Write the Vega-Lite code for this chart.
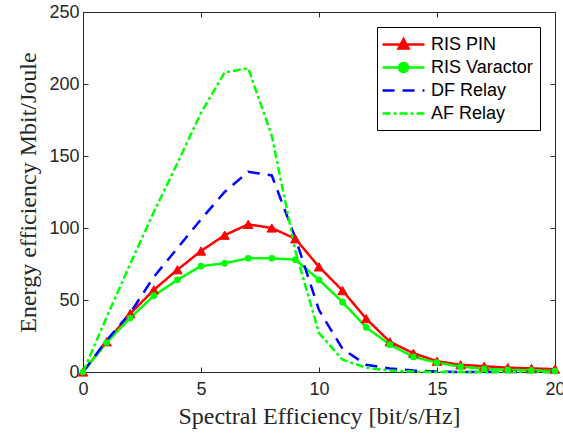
{
  "$schema": "https://vega.github.io/schema/vega-lite/v6.json",
  "width": 472,
  "height": 360,
  "autosize": {"type": "none"},
  "padding": {"left": 83, "top": 12, "right": 8, "bottom": 65},
  "background": "white",
  "config": {
    "view": {"stroke": null},
    "axis": {
      "grid": false,
      "domainColor": "#262626",
      "domainWidth": 1,
      "tickColor": "#262626",
      "tickWidth": 1,
      "tickSize": -5,
      "labelFont": "Liberation Sans",
      "labelFontSize": 18,
      "labelColor": "#262626",
      "labelFlush": false,
      "labelOverlap": false,
      "titleFont": "Liberation Serif",
      "titleFontSize": 24,
      "titleFontWeight": "normal",
      "titleColor": "#262626"
    }
  },
  "datasets": {
    "d": [
      {"x": 0, "series": "RIS PIN", "y": 0},
      {"x": 1, "series": "RIS PIN", "y": 21},
      {"x": 2, "series": "RIS PIN", "y": 40.5},
      {"x": 3, "series": "RIS PIN", "y": 57},
      {"x": 4, "series": "RIS PIN", "y": 71},
      {"x": 5, "series": "RIS PIN", "y": 84},
      {"x": 6, "series": "RIS PIN", "y": 95},
      {"x": 7, "series": "RIS PIN", "y": 102.5},
      {"x": 8, "series": "RIS PIN", "y": 100},
      {"x": 9, "series": "RIS PIN", "y": 92.5},
      {"x": 10, "series": "RIS PIN", "y": 73},
      {"x": 11, "series": "RIS PIN", "y": 56.5},
      {"x": 12, "series": "RIS PIN", "y": 37},
      {"x": 13, "series": "RIS PIN", "y": 21},
      {"x": 14, "series": "RIS PIN", "y": 13},
      {"x": 15, "series": "RIS PIN", "y": 7.5},
      {"x": 16, "series": "RIS PIN", "y": 5},
      {"x": 17, "series": "RIS PIN", "y": 4},
      {"x": 18, "series": "RIS PIN", "y": 3},
      {"x": 19, "series": "RIS PIN", "y": 2.5},
      {"x": 20, "series": "RIS PIN", "y": 2},
      {"x": 0, "series": "RIS Varactor", "y": 0},
      {"x": 1, "series": "RIS Varactor", "y": 20.5},
      {"x": 2, "series": "RIS Varactor", "y": 37.5},
      {"x": 3, "series": "RIS Varactor", "y": 53},
      {"x": 4, "series": "RIS Varactor", "y": 64},
      {"x": 5, "series": "RIS Varactor", "y": 73.5},
      {"x": 6, "series": "RIS Varactor", "y": 75.5},
      {"x": 7, "series": "RIS Varactor", "y": 79},
      {"x": 8, "series": "RIS Varactor", "y": 79},
      {"x": 9, "series": "RIS Varactor", "y": 78},
      {"x": 10, "series": "RIS Varactor", "y": 64},
      {"x": 11, "series": "RIS Varactor", "y": 48.5},
      {"x": 12, "series": "RIS Varactor", "y": 31},
      {"x": 13, "series": "RIS Varactor", "y": 19},
      {"x": 14, "series": "RIS Varactor", "y": 10.5},
      {"x": 15, "series": "RIS Varactor", "y": 6.5},
      {"x": 16, "series": "RIS Varactor", "y": 3.7},
      {"x": 17, "series": "RIS Varactor", "y": 2.2},
      {"x": 18, "series": "RIS Varactor", "y": 1.5},
      {"x": 19, "series": "RIS Varactor", "y": 1.1},
      {"x": 20, "series": "RIS Varactor", "y": 0.7},
      {"x": 0, "series": "DF Relay", "y": 0},
      {"x": 1, "series": "DF Relay", "y": 22},
      {"x": 2, "series": "DF Relay", "y": 41},
      {"x": 3, "series": "DF Relay", "y": 66},
      {"x": 4, "series": "DF Relay", "y": 86},
      {"x": 5, "series": "DF Relay", "y": 106},
      {"x": 6, "series": "DF Relay", "y": 125},
      {"x": 7, "series": "DF Relay", "y": 139},
      {"x": 8, "series": "DF Relay", "y": 136.5},
      {"x": 9, "series": "DF Relay", "y": 93},
      {"x": 10, "series": "DF Relay", "y": 43},
      {"x": 11, "series": "DF Relay", "y": 16},
      {"x": 12, "series": "DF Relay", "y": 5},
      {"x": 13, "series": "DF Relay", "y": 2.5},
      {"x": 14, "series": "DF Relay", "y": 1},
      {"x": 15, "series": "DF Relay", "y": 0.3},
      {"x": 16, "series": "DF Relay", "y": 0},
      {"x": 17, "series": "DF Relay", "y": 0},
      {"x": 18, "series": "DF Relay", "y": 0},
      {"x": 19, "series": "DF Relay", "y": 0},
      {"x": 20, "series": "DF Relay", "y": 0},
      {"x": 0, "series": "AF Relay", "y": 0},
      {"x": 1, "series": "AF Relay", "y": 38},
      {"x": 2, "series": "AF Relay", "y": 75},
      {"x": 3, "series": "AF Relay", "y": 111},
      {"x": 4, "series": "AF Relay", "y": 145},
      {"x": 5, "series": "AF Relay", "y": 180},
      {"x": 6, "series": "AF Relay", "y": 208},
      {"x": 7, "series": "AF Relay", "y": 211},
      {"x": 8, "series": "AF Relay", "y": 164},
      {"x": 9, "series": "AF Relay", "y": 84},
      {"x": 10, "series": "AF Relay", "y": 27},
      {"x": 11, "series": "AF Relay", "y": 8.5},
      {"x": 12, "series": "AF Relay", "y": 3},
      {"x": 13, "series": "AF Relay", "y": 1},
      {"x": 14, "series": "AF Relay", "y": 0.3},
      {"x": 15, "series": "AF Relay", "y": 0},
      {"x": 16, "series": "AF Relay", "y": 0},
      {"x": 17, "series": "AF Relay", "y": 0},
      {"x": 18, "series": "AF Relay", "y": 0},
      {"x": 19, "series": "AF Relay", "y": 0},
      {"x": 20, "series": "AF Relay", "y": 0}
    ]
  },
  "resolve": {"axis": {"x": "independent", "y": "independent"}},
  "layer": [
    {
      "data": {"name": "d"},
      "mark": {"type": "line", "strokeWidth": 2.5},
      "encoding": {
        "x": {"field": "x", "type": "quantitative", "scale": {"domain": [0, 20], "nice": false, "zero": false},
              "axis": {"orient": "bottom", "values": [0, 5, 10, 15, 20], "labelPadding": 13, "title": "Spectral Efficiency [bit/s/Hz]", "titlePadding": 6}},
        "y": {"field": "y", "type": "quantitative", "scale": {"domain": [0, 250], "nice": false},
              "axis": {"orient": "left", "values": [0, 50, 100, 150, 200, 250], "labelPadding": 9, "title": "Energy efficiency Mbit/Joule", "titlePadding": 8}},
        "color": {
          "field": "series", "type": "nominal",
          "scale": {"domain": ["RIS PIN", "RIS Varactor", "DF Relay", "AF Relay"], "range": ["#ff0000", "#00ff00", "#0000ff", "#00ff00"]},
          "legend": {
            "orient": "none", "legendX": 294, "legendY": 15, "title": null,
            "strokeColor": "#000000", "fillColor": "#ffffff", "padding": 7,
            "labelFont": "Liberation Sans", "labelFontSize": 18, "labelColor": "#000000", "labelOffset": 26,
            "symbolSize": 324, "symbolStrokeWidth": 2.5, "rowPadding": 3,
            "encode": {
              "symbols": {
                "update": {
                  "shape": {"signal": "datum.label === 'RIS PIN' ? 'M-1.33,0H3.33M0.44,0.45L1,-0.6L1.56,0.45Z' : datum.label === 'RIS Varactor' ? 'M-1.33,0H3.33M1.5,0A0.5,0.5,0,1,1,0.5,0A0.5,0.5,0,1,1,1.5,0Z' : 'M-1.33,0H3.33'"},
                  "fill": {"signal": "datum.label === 'RIS PIN' ? '#ff0000' : datum.label === 'RIS Varactor' ? '#00ff00' : 'transparent'"},
                  "stroke": {"signal": "datum.label === 'RIS PIN' ? '#ff0000' : datum.label === 'DF Relay' ? '#0000ff' : '#00ff00'"},
                  "strokeDash": {"signal": "datum.label === 'DF Relay' ? [12, 8] : datum.label === 'AF Relay' ? [8, 3, 3, 3] : []"},
                  "opacity": {"value": 1}
                }
              }
            }
          }
        },
        "strokeDash": {
          "field": "series", "type": "nominal",
          "scale": {"domain": ["RIS PIN", "RIS Varactor", "DF Relay", "AF Relay"], "range": [[1, 0], [1, 0], [12, 8], [8, 3, 3, 3]]},
          "legend": null
        }
      }
    },
    {
      "data": {"name": "d"},
      "transform": [{"filter": "datum.series === 'RIS PIN'"}],
      "mark": {"type": "point", "shape": "triangle-up", "size": 90, "filled": true, "opacity": 1, "stroke": "#ff0000", "strokeWidth": 1},
      "encoding": {
        "x": {"field": "x", "type": "quantitative", "axis": null},
        "y": {"field": "y", "type": "quantitative", "axis": null},
        "color": {"field": "series", "type": "nominal"}
      }
    },
    {
      "data": {"name": "d"},
      "transform": [{"filter": "datum.series === 'RIS Varactor'"}],
      "mark": {"type": "point", "shape": "circle", "size": 45, "filled": true, "opacity": 1},
      "encoding": {
        "x": {"field": "x", "type": "quantitative", "axis": null},
        "y": {"field": "y", "type": "quantitative", "axis": null},
        "color": {"field": "series", "type": "nominal"}
      }
    },
    {
      "data": {"name": "d"},
      "mark": {"type": "point", "opacity": 0},
      "encoding": {
        "x": {"field": "x", "type": "quantitative",
              "axis": {"orient": "top", "values": [0, 5, 10, 15, 20], "labels": false, "title": null}},
        "y": {"field": "y", "type": "quantitative",
              "axis": {"orient": "right", "values": [0, 50, 100, 150, 200, 250], "labels": false, "title": null}}
      }
    }
  ]
}
